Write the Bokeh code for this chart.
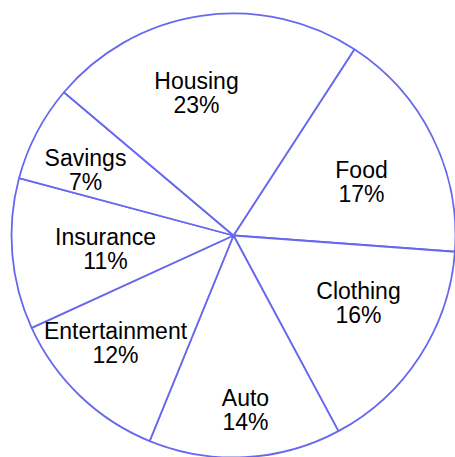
import math
from bokeh.plotting import figure
from bokeh.models import Range1d, ColumnDataSource
from bokeh.core.properties import value
from bokeh.embed import file_html
from bokeh.resources import INLINE

# ---- data ----
categories = ["Food", "Clothing", "Auto", "Entertainment", "Insurance", "Savings", "Housing"]
percents = [17, 16, 14, 12, 11, 7, 23]

# ---- layout ----
W, H = 455, 457
CX, CY = 233, H - 235
R = 222
START_CW = 33.0  # clockwise-from-top angle where the first slice starts
LINE = "#6868ee"

# label anchor offsets (px, from centre, y downward) for the name baseline
label_offsets = {
    "Housing": (-37, -147),
    "Food": (128, -58),
    "Clothing": (125, 63),
    "Auto": (12, 170),
    "Entertainment": (-118, 103),
    "Insurance": (-128, 9),
    "Savings": (-148, -70),
}
TEXT_SHIFT = 8
LINE_GAP = 24

starts, ends = [], []
acc = START_CW
total = sum(percents)
for pct in percents:
    a1 = acc
    a2 = acc + pct / total * 360.0
    starts.append(math.radians(90 - a2))
    ends.append(math.radians(90 - a1))
    acc = a2

src = ColumnDataSource(dict(cat=categories, pct=percents, start=starts, end=ends))

p = figure(width=W, height=H, output_backend="svg", toolbar_location=None,
           x_range=Range1d(0, W), y_range=Range1d(0, H), min_border=0)
p.axis.visible = False
p.grid.visible = False
p.outline_line_color = None
p.background_fill_color = "white"
p.border_fill_color = "white"

p.wedge(x=CX, y=CY, radius=R, start_angle="start", end_angle="end", source=src,
        fill_color="white", line_color=LINE, line_width=1.8)

nx, ny, names, pcts, py = [], [], [], [], []
for c, v in zip(categories, percents):
    dx, dy = label_offsets[c]
    nx.append(CX + dx)
    ny.append(CY - dy + TEXT_SHIFT)
    py.append(CY - dy + TEXT_SHIFT - LINE_GAP)
    names.append(c)
    pcts.append(f"{v}%")

p.text(x=nx, y=ny, text=names, text_align="center", text_baseline="alphabetic",
       text_font=value("Liberation Sans"), text_font_size="23px", text_color="black")
p.text(x=nx, y=py, text=pcts, text_align="center", text_baseline="alphabetic",
       text_font=value("Liberation Sans"), text_font_size="23px", text_color="black")

open("out.html", "w").write(file_html(p, INLINE))
